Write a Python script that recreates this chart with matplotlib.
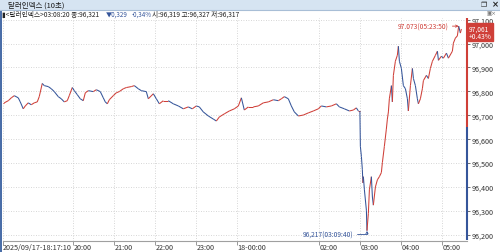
import matplotlib
matplotlib.use('Agg')
import matplotlib.pyplot as plt
from matplotlib.collections import LineCollection
from matplotlib.patches import Rectangle
from matplotlib import transforms
import numpy as np

plt.rcParams['font.family'] = ['Liberation Sans Narrow', 'Noto Sans CJK KR', 'DejaVu Sans']

# 달러인덱스 10초봉, 시간 = 2025/09/17 18:00 이후 분
minutes = [17.17, 19.0, 24.9, 29.3, 33.7, 39.5, 42.4, 46.8, 49.8, 54.1, 58.5, 62.9,
           67.3, 70.2, 74.6, 77.6, 83.4, 87.8, 92.2, 98.0, 102.4, 106.8, 111.2, 114.1,
           118.5, 121.5, 125.9, 130.2, 134.6, 137.6, 142.0, 149.3, 153.7, 159.5, 163.9,
           166.8, 169.8, 172.7, 178.5, 182.9, 187.3, 193.2, 197.6, 204.9, 209.3, 215.1,
           219.5, 226.8, 229.8, 237.1, 241.5, 245.9, 251.7, 259.0, 266.3, 273.7, 281.0,
           288.3, 294.1, 300.0, 304.4, 310.2, 317.6, 324.9, 329.3, 333.7, 341.0, 348.3,
           355.6, 361.5, 365.9, 370.2, 376.1, 383.4, 390.7, 398.0, 405.4, 412.7, 420.0,
           424.4, 428.8, 434.6, 439.0, 443.4, 449.3, 456.6, 463.9, 471.2, 478.5, 482.9,
           490.2, 497.6, 504.9, 509.3, 516.6, 523.9, 529.8, 534.1, 537.1, 539.3,
           540.0, 541.5, 542.9, 543.7, 544.4, 545.9, 548.8, 549.67, 551.7, 553.2, 556.1,
           557.6, 559.0, 562.0, 564.9, 567.8, 570.7, 572.2, 575.1, 578.0, 579.5, 581.0,
           582.4, 585.4, 586.8, 588.3, 591.2, 594.1, 595.6, 597.1, 600.0, 602.9, 605.9,
           608.8, 610.2, 613.2, 616.1, 617.6, 620.5, 623.4, 624.9, 627.8, 630.7, 632.2,
           636.6, 639.5, 642.4, 645.4, 649.8, 652.7, 654.2, 658.5, 661.5, 665.9, 668.8,
           674.6, 676.1, 679.0, 681.9, 683.83, 686.3, 687.8]
prices = [96.752, 96.752, 96.761, 96.773, 96.782, 96.773, 96.756, 96.727, 96.739, 96.752,
          96.744, 96.752, 96.756, 96.778, 96.833, 96.824, 96.820, 96.811, 96.799, 96.778,
          96.769, 96.756, 96.761, 96.782, 96.816, 96.803, 96.786, 96.769, 96.761, 96.794,
          96.803, 96.799, 96.807, 96.799, 96.773, 96.756, 96.748, 96.765, 96.782, 96.794,
          96.799, 96.811, 96.816, 96.820, 96.824, 96.811, 96.803, 96.799, 96.769, 96.790,
          96.769, 96.748, 96.761, 96.761, 96.748, 96.739, 96.727, 96.735, 96.727, 96.739,
          96.735, 96.714, 96.697, 96.684, 96.676, 96.693, 96.706, 96.718, 96.727, 96.739,
          96.773, 96.722, 96.735, 96.735, 96.739, 96.752, 96.756, 96.765, 96.761, 96.769,
          96.778, 96.769, 96.739, 96.714, 96.697, 96.701, 96.710, 96.718, 96.727, 96.739,
          96.735, 96.739, 96.748, 96.735, 96.727, 96.718, 96.722, 96.731, 96.718, 96.718,
          96.570, 96.528, 96.472, 96.417, 96.443, 96.388, 96.303, 96.217, 96.290, 96.388,
          96.443, 96.358, 96.324, 96.400, 96.430, 96.443, 96.460, 96.502, 96.570, 96.642,
          96.684, 96.714, 96.769, 96.824, 96.756, 96.867, 96.926, 96.951, 96.989, 96.926,
          96.896, 96.824, 96.811, 96.769, 96.718, 96.824, 96.896, 96.854, 96.824, 96.769,
          96.748, 96.769, 96.811, 96.845, 96.867, 96.854, 96.896, 96.926, 96.951, 96.968,
          96.930, 96.947, 96.939, 96.960, 96.939, 96.968, 97.002, 97.023, 97.032, 97.073,
          97.044, 97.061]

prev_close = 96.650
change_pct = '+0.43%'
x_ticks = [17.17, 120, 180, 240, 300, 360, 480, 540, 600, 660]
x_labels = ['2025/09/17-18:17:10', '20:00', '21:00', '22:00', '23:00', '18-00:00',
            '02:00', '03:00', '04:00', '05:00']
y_ticks = [96.2, 96.3, 96.4, 96.5, 96.6, 96.7, 96.8, 96.9, 97.0, 97.1]

RED = '#cf3f38'
BLUE = '#35559a'
W, H = 500, 253


def fx(px):
    return px / W


def fy(py):
    return 1 - py / H


def kfmt(v):
    return f'{v:.3f}'.replace('.', ',')


def clock(m):
    s = (18 * 3600 + int(round(m * 60))) % 86400
    return f'{s // 3600:02d}:{s % 3600 // 60:02d}:{s % 60:02d}'


fig = plt.figure(figsize=(W / 100, H / 100), dpi=100)
fig.patch.set_facecolor('white')

# 창 제목 표시줄
fig.patches.append(Rectangle((0, fy(10.5)), 1, 10.5 / H, transform=fig.transFigure,
                             facecolor='#d6e4f2', edgecolor='none'))
fig.lines.append(plt.Line2D([0, 1], [fy(10.5), fy(10.5)], transform=fig.transFigure,
                            color='#a8bed6', lw=0.8))
fig.text(fx(8), fy(5.2), '달러인덱스 (10초)', fontsize=5.4, color='#1a1a1a', va='center')
fig.text(fx(484), fy(5), '❐', fontsize=5, color='#222222', va='center', ha='center',
         family=['DejaVu Sans'])
fig.text(fx(495), fy(5), '×', fontsize=6, color='#222222', va='center', ha='center',
         family=['DejaVu Sans'], weight='bold')
fig.patches.append(Rectangle((0, 0), fx(2), fy(11), transform=fig.transFigure,
                             facecolor='#4a6ea8', edgecolor='none'))

# 시세 정보 줄
fig.text(fx(2.5), fy(15), '▮<달러인덱스>03:08:20 종:96,321', fontsize=4.8, color='#222222',
         va='center')
fig.text(fx(106), fy(15), '▼0,329', fontsize=4.5, color=BLUE, va='center')
fig.text(fx(132), fy(15), '-0,34%', fontsize=4.5, color=BLUE, va='center')
fig.text(fx(152), fy(15), '시:96,319 고:96,327 저:96,317', fontsize=4.8, color='#222222',
         va='center')
fig.text(fx(491), fy(13.5), '▣×', fontsize=4, color='#777777', va='center', ha='center',
         family=['DejaVu Sans'])

ax = fig.add_axes([fx(3), fy(241.5), fx(464), (241.5 - 19) / H])
ylo, yhi = 96.176, 97.107
ax.set_xlim(17.17, 696)
ax.set_ylim(ylo, yhi)

pts = np.column_stack([minutes, prices])
segs = np.stack([pts[:-1], pts[1:]], axis=1)
cols = [RED if b >= a else BLUE for a, b in zip(prices[:-1], prices[1:])]
ax.add_collection(LineCollection(segs, colors=cols, linewidths=0.75, zorder=3))

ax.set_xticks(x_ticks)
ax.set_xticklabels(x_labels)
for lbl in ax.get_xticklabels():
    lbl.set_ha('left')
ax.tick_params(axis='x', length=3, width=0.6, color='#888888', pad=-1.5,
               labelsize=5.2, labelcolor='#333333')

ax.yaxis.tick_right()
ax.set_yticks(y_ticks)
ax.set_yticklabels([kfmt(v) for v in y_ticks])
ax.tick_params(axis='y', length=2, width=0.6, color='#555555', pad=1,
               labelsize=5.2, labelcolor='#333333')

ax.grid(True, color='#c9c9c9', ls=(0, (1, 2)), lw=0.6)
for s in ['top', 'left', 'right']:
    ax.spines[s].set_visible(False)
ax.spines['bottom'].set_color('#a0a0a0')
ax.spines['bottom'].set_linewidth(0.8)

trans = transforms.blended_transform_factory(ax.transAxes, ax.transData)
ax.plot([1, 1], [prev_close, yhi], transform=trans, color=RED, lw=1.5,
        clip_on=False, solid_capstyle='butt', zorder=5)
ax.plot([1, 1], [ylo, prev_close], transform=trans, color=BLUE, lw=1.5,
        clip_on=False, solid_capstyle='butt', zorder=5)

# 현재가 박스
last = prices[-1]
ax.text(1.004, last - 0.013, f'{kfmt(last)}\n{change_pct}', transform=trans, fontsize=4.8,
        color='white', va='center', ha='left', linespacing=0.9, zorder=6,
        bbox=dict(boxstyle='square,pad=0.2', fc=RED, ec=RED))

# 최고/최저 표시
imax = int(np.argmax(prices))
imin = int(np.argmin(prices))
ax.annotate(f'{prices[imax]:.3f}({clock(minutes[imax])})', xy=(minutes[imax], prices[imax]),
            xytext=(-7, 0), textcoords='offset points', ha='right', va='center',
            fontsize=4.8, color=RED, zorder=6,
            arrowprops=dict(arrowstyle='->', color=RED, lw=0.6, shrinkA=0.5, shrinkB=0,
                            mutation_scale=4))
ax.annotate(f'{kfmt(prices[imin])}({clock(minutes[imin])})', xy=(minutes[imin], prices[imin]),
            xytext=(-10, -2.6), textcoords='offset points', ha='right', va='center',
            fontsize=4.8, color=BLUE, zorder=6,
            arrowprops=dict(arrowstyle='->', color=BLUE, lw=0.6, shrinkA=0.5, shrinkB=0,
                            mutation_scale=4,
                            connectionstyle='angle,angleA=0,angleB=90,rad=0'))

fig.savefig('out.png', dpi=100)
